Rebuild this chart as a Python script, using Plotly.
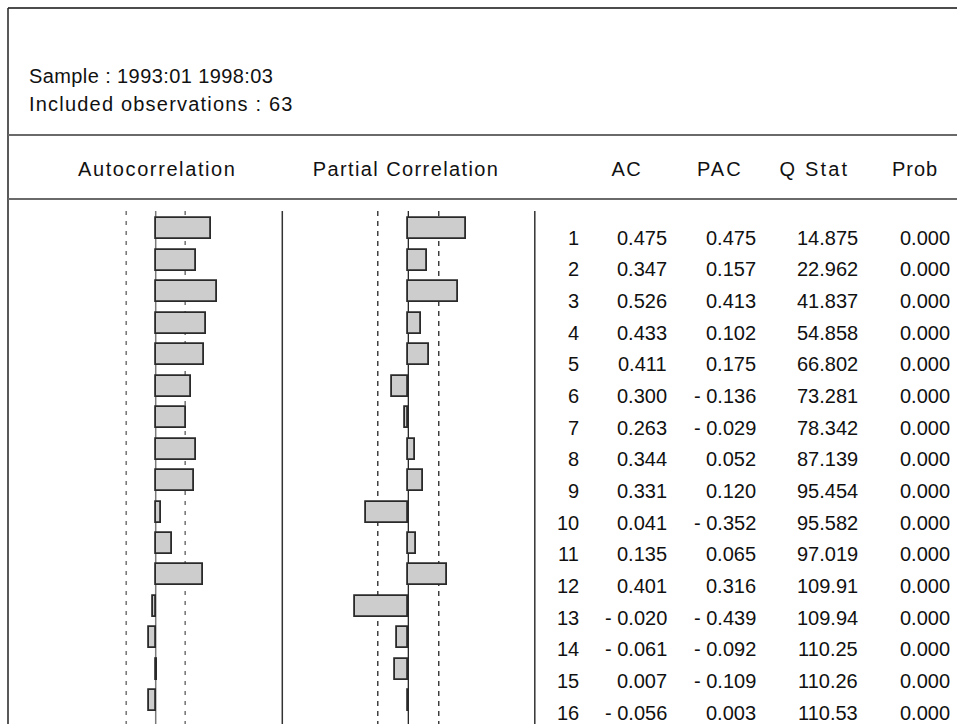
import json
import plotly.graph_objects as go

# Correlogram data
lags = list(range(1, 17))
ac = [0.475, 0.347, 0.526, 0.433, 0.411, 0.300, 0.263, 0.344,
      0.331, 0.041, 0.135, 0.401, -0.020, -0.061, 0.007, -0.056]
pac = [0.475, 0.157, 0.413, 0.102, 0.175, -0.136, -0.029, 0.052,
       0.120, -0.352, 0.065, 0.316, -0.439, -0.092, -0.109, 0.003]
q_stat = [14.875, 22.962, 41.837, 54.858, 66.802, 73.281, 78.342, 87.139,
          95.454, 95.582, 97.019, 109.91, 109.94, 110.25, 110.26, 110.53]
prob = [0.000] * 16
n_obs = 63
sample_text = "Sample : 1993:01 1998:03"
obs_text = f"Included observations : {n_obs}"
col_headers = ["Autocorrelation", "Partial Correlation", "AC", "PAC", "Q Stat", "Prob"]

W, H = 957, 724
FONT = "Liberation Sans, Arial, sans-serif"
FS = 20

# Pixel geometry of the layout
BAR_ROW0, BAR_STEP = 228.8, 31.47     # centre of first bar row, row pitch
TXT_ROW0, TXT_STEP = 237.5, 31.67     # centre of first text row, row pitch
BAR_H = 21.0
AC_ZERO, AC_SCALE = 155.7, 117.0      # px position of zero, px per unit
PAC_ZERO, PAC_SCALE = 408.3, 121.0
PANEL_TOP = 211.0

# extra tracking (px) for the wide-set label text
letter_spacing = {
    sample_text: 0.4,
    obs_text: 1.2,
    "Autocorrelation": 1.6,
    "Partial Correlation": 1.4,
    "AC": 1.6,
    "PAC": 2.0,
    "Q Stat": 2.2,
    "Prob": 1.0,
}


def px(x):
    return x / W


def py(y):
    return 1 - y / H


def y_range(row0, step):
    top = 1 - row0 / step
    bottom = 1 + (H - row0) / step
    return [bottom, top]


def x_range(zero, scale):
    return [-zero / scale, (W - zero) / scale]


def fmt_corr(v):
    s = f"{v:.3f}"
    return s.replace("-", "- ")


band = 2 / n_obs ** 0.5

fig = go.Figure()
bar_style = dict(color="#cdcdcd", line=dict(color="#2a2a2a", width=1.8))
fig.add_trace(go.Bar(x=ac, y=lags, orientation="h", xaxis="x", yaxis="y",
                     width=BAR_H / BAR_STEP, marker=bar_style,
                     hoverinfo="skip", showlegend=False))
fig.add_trace(go.Bar(x=pac, y=lags, orientation="h", xaxis="x2", yaxis="y",
                     width=BAR_H / BAR_STEP, marker=bar_style,
                     hoverinfo="skip", showlegend=False))

shapes = []
# outer frame (top and left) and header rules
shapes.append(dict(type="line", xref="paper", yref="paper", x0=px(8), x1=1,
                   y0=py(8), y1=py(8), line=dict(color="#111111", width=1.5)))
shapes.append(dict(type="line", xref="paper", yref="paper", x0=px(8), x1=px(8),
                   y0=py(8), y1=0, line=dict(color="#222222", width=1.5)))
for yy in (135, 199):
    shapes.append(dict(type="line", xref="paper", yref="paper", x0=px(8), x1=1,
                       y0=py(yy), y1=py(yy), line=dict(color="#6a6a6a", width=2)))
# panel separators
for xx in (282.3, 534.8):
    shapes.append(dict(type="line", xref="paper", yref="paper", x0=px(xx), x1=px(xx),
                       y0=py(PANEL_TOP), y1=0, line=dict(color="#333333", width=1.5)))
# zero lines and confidence bands
shapes.append(dict(type="line", xref="x", yref="paper", x0=0, x1=0,
                   y0=py(PANEL_TOP), y1=0, layer="below",
                   line=dict(color="#7a7a7a", width=1.5)))
for b in (-band, band):
    shapes.append(dict(type="line", xref="x", yref="paper", x0=b, x1=b,
                       y0=py(PANEL_TOP), y1=0, layer="below",
                       line=dict(color="#7a7a7a", width=1.6, dash="4px,6px")))
shapes.append(dict(type="line", xref="x2", yref="paper", x0=0, x1=0,
                   y0=py(PANEL_TOP), y1=0, layer="below",
                   line=dict(color="#111111", width=1.2)))
for b in (-band, band):
    shapes.append(dict(type="line", xref="x2", yref="paper", x0=b, x1=b,
                       y0=py(PANEL_TOP), y1=0, layer="below",
                       line=dict(color="#111111", width=1.2, dash="5px,5px")))

annotations = []
txt_font = dict(family=FONT, size=FS, color="#111111")
annotations.append(dict(text=sample_text, xref="paper", yref="paper", x=px(27), y=py(75.5),
                        xanchor="left", yanchor="middle", align="left",
                        showarrow=False, font=txt_font))
annotations.append(dict(text=obs_text, xref="paper", yref="paper", x=px(27), y=py(104),
                        xanchor="left", yanchor="middle", align="left",
                        showarrow=False, font=txt_font))
header_x = [157.5, 406.0, 627.0, 720.0, 814.0, 915.0]
for label, hx in zip(col_headers, header_x):
    annotations.append(dict(text=label, xref="paper", yref="paper", x=px(hx), y=py(169.5),
                            xanchor="center", yanchor="middle", showarrow=False, font=txt_font))

# table columns, right-aligned
col_right = [581, 669, 758, 860, 952]
for i, lag in enumerate(lags):
    cells = [str(lag), fmt_corr(ac[i]), fmt_corr(pac[i]), f"{q_stat[i]:.5g}", f"{prob[i]:.3f}"]
    for cx, cell in zip(col_right, cells):
        annotations.append(dict(text=cell, xref="paper", yref="y2", x=px(cx), y=lag,
                                xanchor="right", yanchor="middle", showarrow=False,
                                font=txt_font))

hidden = dict(showgrid=False, zeroline=False, showticklabels=False, ticks="",
              showline=False, fixedrange=True)
fig.update_layout(
    width=W, height=H,
    margin=dict(l=0, r=0, t=0, b=0),
    paper_bgcolor="white", plot_bgcolor="rgba(0,0,0,0)",
    xaxis=dict(domain=[0, 1], range=x_range(AC_ZERO, AC_SCALE), **hidden),
    xaxis2=dict(domain=[0, 1], range=x_range(PAC_ZERO, PAC_SCALE), overlaying="x",
                anchor="y", **hidden),
    yaxis=dict(domain=[0, 1], range=y_range(BAR_ROW0, BAR_STEP), **hidden),
    yaxis2=dict(domain=[0, 1], range=y_range(TXT_ROW0, TXT_STEP), overlaying="y",
                anchor="x", **hidden),
    shapes=shapes,
    annotations=annotations,
    bargap=0,
)

# widen the tracking of the label text once the annotations are drawn
spacing_js = """
var gd = document.getElementById('{plot_id}');
var tracking = TRACKING;
function applyTracking() {
  gd.querySelectorAll('text.annotation-text').forEach(function (t) {
    var s = t.textContent;
    if (tracking.hasOwnProperty(s)) { t.style.letterSpacing = tracking[s] + 'px'; }
  });
}
applyTracking();
if (gd.on) { gd.on('plotly_afterplot', applyTracking); }
setTimeout(applyTracking, 50);
""".replace("TRACKING", json.dumps(letter_spacing))

fig.write_html("out.html", post_script=spacing_js)
